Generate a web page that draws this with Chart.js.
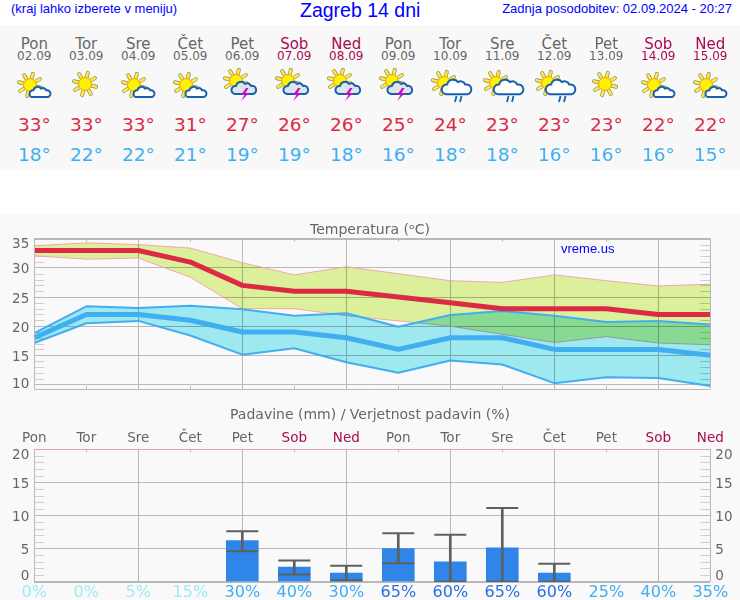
<!DOCTYPE html>
<html>
<head>
<meta charset="utf-8">
<title>Zagreb 14 dni</title>
<script src="https://cdn.jsdelivr.net/npm/chart.js@4/dist/chart.umd.min.js"></script>
<style>
    html, body { margin: 0; padding: 0; background: #fff; }
    #page { position: relative; width: 740px; height: 600px; overflow: hidden; font-family: "DejaVu Sans", sans-serif; }
    .head { position: absolute; color: #0000ff; font-family: "Liberation Sans", Arial, sans-serif; white-space: nowrap; }
    #band { position: absolute; left: 0; top: 25px; width: 740px; height: 145px; background: #f8f8f8; }
    #lower { position: absolute; left: 0; top: 215px; width: 740px; height: 385px; background: #f9f9f9; }
    .col { position: absolute; top: 25px; width: 52px; height: 145px; text-align: center; }
    .col div { position: absolute; left: -10px; width: 72px; white-space: nowrap; }
    .col svg { position: absolute; left: 0; top: 43px; }
    canvas { position: absolute; left: 0; }
</style>
</head>
<body>
<div id="page">
    <div class="head" style="left:11px;top:1px;font-size:13px">(kraj lahko izberete v meniju)</div>
    <div class="head" style="left:300px;top:-1px;font-size:19.5px">Zagreb 14 dni</div>
    <div class="head" style="right:8px;top:1px;font-size:13px">Zadnja posodobitev: 02.09.2024 - 20:27</div>
    <div id="band"></div>
    <div id="lower"></div>
    <canvas id="tempChart" width="740" height="180" style="top:215px"></canvas>
    <canvas id="rainChart" width="740" height="200" style="top:400px"></canvas>
    <div class="head" style="left:561px;top:241px;font-size:13px">vreme.us</div>
</div>
<script>
const days = ["Pon", "Tor", "Sre", "Čet", "Pet", "Sob", "Ned", "Pon", "Tor", "Sre", "Čet", "Pet", "Sob", "Ned"];
const dates = ["02.09", "03.09", "04.09", "05.09", "06.09", "07.09", "08.09", "09.09", "10.09", "11.09", "12.09", "13.09", "14.09", "15.09"];
const icons = ["cloud", "sun", "cloud", "cloud", "storm", "storm", "storm", "storm", "rain", "rain", "rain", "sun", "cloud", "cloud"];

const maxTemp = [33, 33, 33, 31, 27, 26, 26, 25, 24, 23, 23, 23, 22, 22];
const minTemp = [18, 22, 22, 21, 19, 19, 18, 16, 18, 18, 16, 16, 16, 15];
const maxTempHigh = [33.8, 34.3, 34.0, 33.4, 30.9, 28.8, 30.2, 29.0, 27.8, 27.5, 28.8, 27.8, 26.9, 27.2];
const maxTempLow = [32.1, 31.5, 31.7, 28.4, 23.0, 23.0, 21.8, 20.9, 20.0, 18.6, 17.2, 18.2, 17.1, 16.8];
const minTempHigh = [18.8, 23.4, 23.1, 23.5, 22.9, 21.8, 22.2, 19.9, 21.9, 22.6, 21.8, 20.7, 20.9, 20.3];
const minTempLow = [17.1, 20.5, 20.9, 18.4, 15.1, 16.2, 13.8, 12.0, 14.1, 13.4, 10.2, 11.2, 11.1, 9.7];

const rain = [null, null, null, null, 6.2, 2.2, 1.3, 5.0, 3.0, 5.1, 1.3, null, null, null];
const rainHigh = [null, null, null, null, 7.6, 3.2, 2.4, 7.3, 7.1, 11.1, 2.7, null, null, null];
const rainLow = [null, null, null, null, 4.6, 1.1, 0.2, 2.8, 0, 0, 0, null, null, null];
const rainChance = [0, 0, 5, 15, 30, 40, 30, 65, 60, 65, 60, 25, 40, 35];

const tempTicks = [35, 30, 25, 20, 15, 10];
const rainTicks = [20, 15, 10, 5, 0];

const gray = '#666666';
const weekend = '#a80a50';
const gridColor = '#b9b9b9';
const minorColor = '#cfcfcf';
const hotColor = '#dc2a44';
const coldColor = '#41aef2';

function dayColor(i) {
    return (i % 7 === 5 || i % 7 === 6) ? weekend : gray;
}

function chanceColor(v) {
    if (v >= 60) return '#2e6fe0';
    if (v >= 25) return '#41aef2';
    return '#a0eaf6';
}

// header columns with the weather icons
function sunSvg(cx, cy) {
    let s = '';
    for (let k = 0; k < 8; k++) {
        const a = k * Math.PI / 4 + 0.25;
        const x1 = (cx + Math.cos(a) * 7).toFixed(1), y1 = (cy + Math.sin(a) * 7).toFixed(1);
        const x2 = (cx + Math.cos(a) * 11.5).toFixed(1), y2 = (cy + Math.sin(a) * 11.5).toFixed(1);
        s += `<line x1="${x1}" y1="${y1}" x2="${x2}" y2="${y2}" stroke="#99975a" stroke-width="4" stroke-linecap="round"/>`;
        s += `<line x1="${x1}" y1="${y1}" x2="${x2}" y2="${y2}" stroke="#ffe94a" stroke-width="2.4" stroke-linecap="round"/>`;
    }
    s += `<circle cx="${cx}" cy="${cy}" r="6.4" fill="#fff200" stroke="#f0a000" stroke-width="1"/>`;
    return s;
}

function cloudSvg(cx, cy, k, fill) {
    const p = `M${cx - 10 * k} ${cy + 6 * k} a${4 * k} ${4 * k} 0 0 1 ${1 * k} ${-8 * k} a${5 * k} ${5 * k} 0 0 1 ${9 * k} ${-2 * k} a${4 * k} ${4 * k} 0 0 1 ${6 * k} ${2 * k} a${4 * k} ${4 * k} 0 0 1 ${2 * k} ${8 * k} z`;
    return `<path d="${p}" fill="${fill}" stroke="#1560b0" stroke-width="2" stroke-linejoin="round"/>`;
}

function iconSvg(type) {
    let s = '';
    if (type === 'sun') s = sunSvg(25, 16);
    if (type === 'cloud') s = sunSvg(22, 17) + cloudSvg(33, 24, 0.85, '#ffffff');
    if (type === 'storm') {
        s = sunSvg(20, 13) + cloudSvg(29, 20, 1, '#e0e4e8');
        s += '<path d="M30 20 l-5 7 h3.5 l-3.5 6 l8 -8 h-3.5 l3 -5 z" fill="#c010c0"/>';
    }
    if (type === 'rain') {
        s = sunSvg(20, 15) + cloudSvg(34, 19, 1.2, '#ffffff');
        s += '<path d="M32.5 28 l-1.5 6 M37.5 28 l-1.5 6" stroke="#1560b0" stroke-width="1.8" fill="none"/>';
    }
    return `<svg width="52" height="36" viewBox="0 0 52 36">${s}</svg>`;
}

const page = document.getElementById('page');
days.forEach(function (day, i) {
    const col = document.createElement('div');
    col.className = 'col';
    col.style.left = (8.3 + 52 * i) + 'px';
    col.innerHTML =
        `<div style="top:10px;font-size:15px;color:${dayColor(i)}">${day}</div>` +
        `<div style="top:24px;font-size:12px;color:${dayColor(i)}">${dates[i]}</div>` +
        iconSvg(icons[i]) +
        `<div style="top:89px;font-size:18.5px;color:${hotColor}">${maxTemp[i]}°</div>` +
        `<div style="top:119px;font-size:18.5px;color:${coldColor}">${minTemp[i]}°</div>`;
    page.appendChild(col);
});

// small marks, frame and y labels that the scales do not do themselves
function framePlugin(id, tickValues, topColor, bottomTicks, rightLabels) {
    return {
        id: id,
        beforeDatasetsDraw(chart) {
            const ctx = chart.ctx, a = chart.chartArea, yScale = chart.scales.y, xScale = chart.scales.x;
            ctx.save();
            ctx.lineWidth = 1;
            ctx.strokeStyle = minorColor;
            ctx.beginPath();
            for (let v = Math.ceil(yScale.min); v < yScale.max; v++) {
                if (v % 5 === 0) continue;
                const y = Math.round(yScale.getPixelForValue(v)) + 0.5;
                ctx.moveTo(a.left, y); ctx.lineTo(a.left + 10, y);
                ctx.moveTo(a.right - 10, y); ctx.lineTo(a.right, y);
            }
            ctx.stroke();
            ctx.strokeStyle = topColor;
            ctx.beginPath();
            days.forEach(function (d, i) {
                if (i % 2 === 0) return;
                const x = Math.round(xScale.getPixelForValue(i)) + 0.5;
                ctx.moveTo(x, a.top); ctx.lineTo(x, a.top + 3);
            });
            ctx.stroke();
            if (bottomTicks) {
                ctx.beginPath();
                days.forEach(function (d, i) {
                    if (i % 2 === 0) return;
                    const x = Math.round(xScale.getPixelForValue(i)) + 0.5;
                    ctx.moveTo(x, a.bottom - 3); ctx.lineTo(x, a.bottom);
                });
                ctx.stroke();
            }
            ctx.restore();
        },
        afterDraw(chart) {
            const ctx = chart.ctx, a = chart.chartArea, yScale = chart.scales.y;
            ctx.save();
            ctx.lineWidth = 1;
            ctx.strokeStyle = gridColor;
            ctx.beginPath();
            ctx.moveTo(Math.round(a.left) + 0.5, a.top); ctx.lineTo(Math.round(a.left) + 0.5, a.bottom);
            ctx.moveTo(Math.round(a.right) + 0.5, a.top); ctx.lineTo(Math.round(a.right) + 0.5, a.bottom);
            ctx.moveTo(a.left, Math.round(a.bottom) + 0.5); ctx.lineTo(a.right, Math.round(a.bottom) + 0.5);
            ctx.stroke();
            ctx.strokeStyle = topColor;
            ctx.beginPath();
            ctx.moveTo(a.left, Math.round(a.top) + 0.5); ctx.lineTo(a.right, Math.round(a.top) + 0.5);
            ctx.stroke();
            // the top and bottom labels stay inside the plot height
            ctx.fillStyle = gray;
            ctx.font = '13.5px "DejaVu Sans"';
            ctx.textBaseline = 'middle';
            tickValues.forEach(function (v) {
                let y = yScale.getPixelForValue(v);
                y = Math.max(a.top + 6, Math.min(a.bottom - 5, y + 2));
                ctx.textAlign = 'right';
                ctx.fillText(String(v), a.left - 5, y);
                if (rightLabels) {
                    ctx.textAlign = 'left';
                    ctx.fillText(String(v), a.right + 5, y);
                }
            });
            ctx.restore();
        }
    };
}

// overlapping bands darken each other, their border lines do not
const bandBlend = {
    id: 'bandBlend',
    beforeDatasetsDraw(chart) { chart.ctx.globalCompositeOperation = 'multiply'; },
    beforeDatasetDraw(chart) { chart.ctx.globalCompositeOperation = 'source-over'; },
    afterDatasetDraw(chart) { chart.ctx.globalCompositeOperation = 'multiply'; },
    afterDatasetsDraw(chart) { chart.ctx.globalCompositeOperation = 'source-over'; }
};

function xGrid(ctx) {
    return (ctx.index % 2 === 0 && ctx.index > 0 && ctx.index < 13) ? gridColor : 'transparent';
}

function yGrid(ctx) {
    return ctx.tick.value % 5 === 0 ? gridColor : 'transparent';
}

function yScaleOptions(min, max, position, width) {
    return {
        type: 'linear',
        position: position,
        min: min,
        max: max,
        afterBuildTicks(scale) {
            const list = [];
            for (let v = Math.ceil(min / 5) * 5; v <= max; v += 5) list.push({ value: v });
            scale.ticks = list;
        },
        afterFit(scale) { scale.width = width; },
        ticks: { display: false },
        border: { display: false },
        grid: { color: yGrid, drawTicks: false }
    };
}

new Chart(document.getElementById('tempChart'), {
    type: 'line',
    data: {
        labels: days,
        datasets: [
            { data: maxTempHigh, fill: '+1', backgroundColor: '#dcf09c', borderColor: '#f0a8a8', borderWidth: 1, order: 6 },
            { data: maxTempLow, borderColor: '#f0a8a8', borderWidth: 1, order: 5 },
            { data: minTempHigh, fill: '+1', backgroundColor: '#9ee8f0', borderColor: coldColor, borderWidth: 2, order: 4 },
            { data: minTempLow, borderColor: coldColor, borderWidth: 2, order: 3 },
            { data: minTemp, borderColor: coldColor, borderWidth: 5, order: 2 },
            { data: maxTemp, borderColor: hotColor, borderWidth: 5, order: 1 }
        ]
    },
    options: {
        responsive: false,
        animation: false,
        elements: { point: { radius: 0 }, line: { tension: 0, borderJoinStyle: 'round' } },
        layout: { padding: { bottom: 6 } },
        plugins: {
            legend: { display: false },
            tooltip: { enabled: false },
            title: {
                display: true,
                text: 'Temperatura (ᵒC)',
                color: gray,
                font: { family: '"DejaVu Sans"', size: 14, weight: 'normal' },
                padding: { top: 7, bottom: 0 }
            }
        },
        scales: {
            x: {
                type: 'category',
                offset: false,
                afterFit(scale) { scale.height = 0; },
                ticks: { display: false },
                border: { display: false },
                grid: { color: xGrid, drawTicks: false }
            },
            y: yScaleOptions(9.2, 35, 'left', 34.3),
            yRight: Object.assign(yScaleOptions(9.2, 35, 'right', 29.7), { grid: { display: false } })
        }
    },
    plugins: [framePlugin('tempFrame', tempTicks, gridColor, true, false), bandBlend]
});

new Chart(document.getElementById('rainChart'), {
    type: 'bar',
    data: {
        labels: days,
        datasets: [
            { type: 'line', data: rainHigh, showLine: false, pointStyle: 'line', pointRadius: 16, pointBorderWidth: 2, pointBorderColor: '#5f5f5f', order: 1 },
            { type: 'line', data: rainLow, showLine: false, pointStyle: 'line', pointRadius: 16, pointBorderWidth: 2, pointBorderColor: '#5f5f5f', order: 1, clip: false },
            { data: rainHigh.map((v, i) => v === null ? null : [rainLow[i], v]), backgroundColor: '#5f5f5f', barThickness: 2, grouped: false, order: 2 },
            { data: rain, backgroundColor: '#2f86e8', barThickness: 32, grouped: false, order: 3 }
        ]
    },
    options: {
        responsive: false,
        animation: false,
        layout: { padding: 0 },
        plugins: {
            legend: { display: false },
            tooltip: { enabled: false },
            title: {
                display: true,
                text: 'Padavine (mm) / Verjetnost padavin (%)',
                color: gray,
                font: { family: '"DejaVu Sans"', size: 14, weight: 'normal' },
                padding: { top: 7, bottom: 4 }
            }
        },
        scales: {
            x: {
                type: 'category',
                position: 'top',
                offset: false,
                afterFit(scale) { scale.height = 21.3; },
                ticks: {
                    autoSkip: false,
                    maxRotation: 0,
                    padding: 3,
                    color: ctx => dayColor(ctx.index),
                    font: { family: '"DejaVu Sans"', size: 13.5 }
                },
                border: { display: false },
                grid: { color: xGrid, drawTicks: false, offset: false }
            },
            xChance: {
                type: 'category',
                position: 'bottom',
                offset: false,
                labels: rainChance.map(v => v + '%'),
                afterFit(scale) { scale.height = 18.3; },
                ticks: {
                    autoSkip: false,
                    maxRotation: 0,
                    padding: 2,
                    color: ctx => chanceColor(rainChance[ctx.index]),
                    font: { family: '"DejaVu Sans"', size: 16 }
                },
                border: { display: false },
                grid: { display: false, drawTicks: false }
            },
            y: yScaleOptions(0, 20, 'left', 34.3),
            yRight: Object.assign(yScaleOptions(0, 20, 'right', 29.7), { grid: { display: false } })
        }
    },
    plugins: [framePlugin('rainFrame', rainTicks, '#e6a0b8', false, true)]
});
</script>
</body>
</html>
